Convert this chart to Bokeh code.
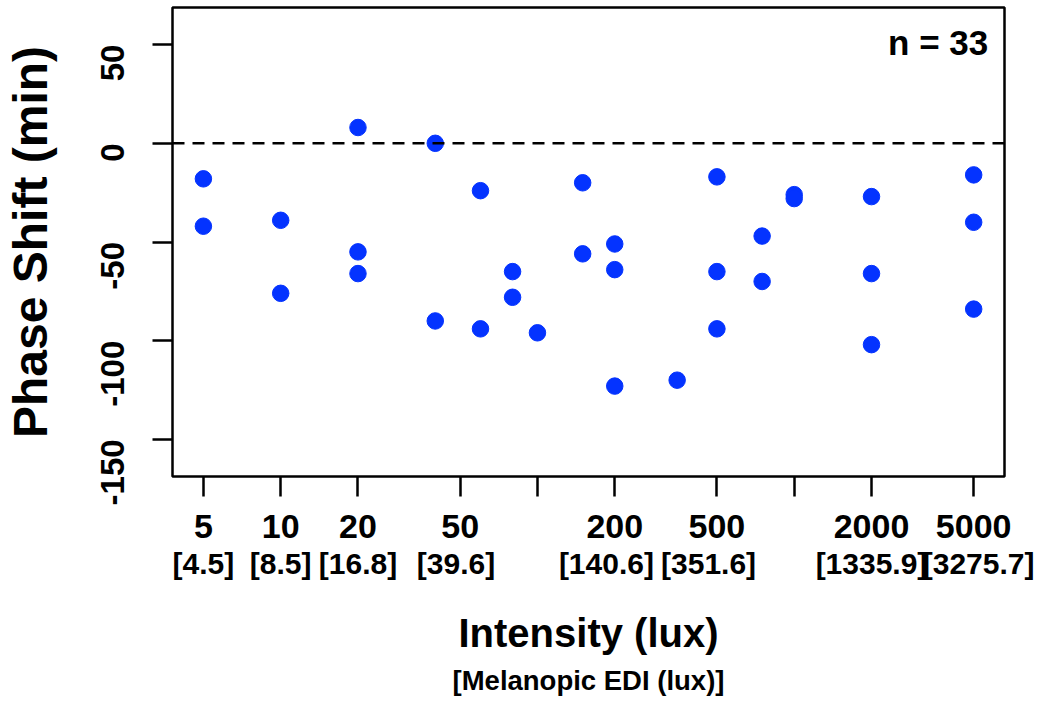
import math
from bokeh.plotting import figure
from bokeh.models import Range1d, FixedTicker, LogAxis, Span, Label
from bokeh.embed import file_html
from bokeh.resources import INLINE

# ---- data ----
intensity = [5, 5, 10, 10, 20, 20, 20, 40, 40, 60, 60, 80, 80, 100, 150, 150,
             200, 200, 200, 350, 500, 500, 500, 750, 750, 1000, 1000,
             2000, 2000, 2000, 5000, 5000, 5000]
phase_shift = [-18, -42, -39, -76, 8, -55, -66, 0, -90, -24, -94, -65, -78, -96, -20, -56,
               -51, -64, -123, -120, -17, -65, -94, -47, -70, -26, -28,
               -27, -66, -102, -16, -40, -84]
tick_values = [5, 10, 20, 50, 100, 200, 500, 1000, 2000, 5000]
tick_labels = ["5", "10", "20", "50", "", "200", "500", "", "2000", "5000"]
edi_labels = ["[4.5]", "[8.5]", "[16.8]", "[39.6]\u00a0", "", "[140.6]\u00a0\u00a0", "[351.6]\u00a0\u00a0",
              "", "[1335.9]", "\u00a0\u00a0\u00a0[3275.7]"]
y_ticks = [-150, -100, -50, 0, 50]
y_labels = ["-150", "-100", "-50", "0", "50"]
n_text = "n = 33"
x_title = "Intensity (lux)"
x_subtitle = "[Melanopic EDI (lux)]"

FONT = "Liberation Sans"

p = figure(width=1034, height=698, x_axis_type="log",
           x_range=Range1d(3.79, 6592), y_range=Range1d(-168.8, 68.8),
           output_backend="svg", toolbar_location=None,
           min_border_left=167, min_border_right=30, min_border_top=7, min_border_bottom=221)

p.grid.visible = False
p.outline_line_color = "black"
p.outline_line_width = 2.5
p.background_fill_color = "white"
p.border_fill_color = "white"

# y axis
ya = p.yaxis[0]
ya.ticker = FixedTicker(ticks=y_ticks)
ya.major_label_overrides = {v: t for v, t in zip(y_ticks, y_labels)}
ya.axis_line_color = None
ya.major_tick_in = 0
ya.major_tick_out = 20
ya.major_tick_line_width = 2.5
ya.minor_tick_line_color = None
ya.major_label_orientation = math.pi / 2
ya.major_label_text_font = FONT
ya.major_label_text_font_style = "bold"
ya.major_label_text_font_size = "33px"
ya.major_label_text_color = "black"
ya.major_label_standoff = 40
ya.axis_label = "Phase Shift (min)"
ya.axis_label_text_font = FONT
ya.axis_label_text_font_style = "bold"
ya.axis_label_text_font_size = "48px"
ya.axis_label_text_color = "black"
ya.axis_label_standoff = 30

# x axis (lux)
xa = p.xaxis[0]
xa.ticker = FixedTicker(ticks=tick_values)
xa.major_label_overrides = {v: t for v, t in zip(tick_values, tick_labels)}
xa.axis_line_color = None
xa.major_tick_in = 0
xa.major_tick_out = 20
xa.major_tick_line_width = 2.5
xa.minor_tick_line_color = None
xa.major_label_text_font = FONT
xa.major_label_text_font_style = "bold"
xa.major_label_text_font_size = "34px"
xa.major_label_text_color = "black"
xa.major_label_standoff = 18

# second x axis (melanopic EDI) carrying the main x title
xa2 = LogAxis(ticker=FixedTicker(ticks=tick_values))
xa2.major_label_overrides = {v: t for v, t in zip(tick_values, edi_labels)}
xa2.axis_line_color = None
xa2.major_tick_line_color = None
xa2.major_tick_in = 0
xa2.major_tick_out = 0
xa2.minor_tick_line_color = None
xa2.major_label_text_font = FONT
xa2.major_label_text_font_style = "bold"
xa2.major_label_text_font_size = "30px"
xa2.major_label_text_color = "black"
xa2.major_label_standoff = 6
xa2.axis_label = x_title
xa2.axis_label_text_font = FONT
xa2.axis_label_text_font_style = "bold"
xa2.axis_label_text_font_size = "40px"
xa2.axis_label_text_color = "black"
xa2.axis_label_standoff = 28
p.add_layout(xa2, "below")

# third (label-only) axis for the sub title
xa3 = LogAxis(ticker=FixedTicker(ticks=[]))
xa3.axis_line_color = None
xa3.major_tick_line_color = None
xa3.major_tick_in = 0
xa3.major_tick_out = 0
xa3.minor_tick_line_color = None
xa3.major_label_standoff = 0
xa3.axis_label = x_subtitle
xa3.axis_label_text_font = FONT
xa3.axis_label_text_font_style = "bold"
xa3.axis_label_text_font_size = "27.5px"
xa3.axis_label_text_color = "black"
xa3.axis_label_standoff = 7
p.add_layout(xa3, "below")

# zero line
p.add_layout(Span(location=0, dimension="width", line_color="black",
                  line_dash="12 8", line_width=2.5))

# points
p.scatter(intensity, phase_shift, size=16.5, fill_color="#0433FF", line_color="#0433FF")

# n label
p.add_layout(Label(x=5700, y=51, text=n_text, text_align="right", text_baseline="middle",
                   text_font=FONT, text_font_style="bold", text_font_size="35px", text_color="black"))

open("out.html", "w").write(file_html(p, INLINE))
